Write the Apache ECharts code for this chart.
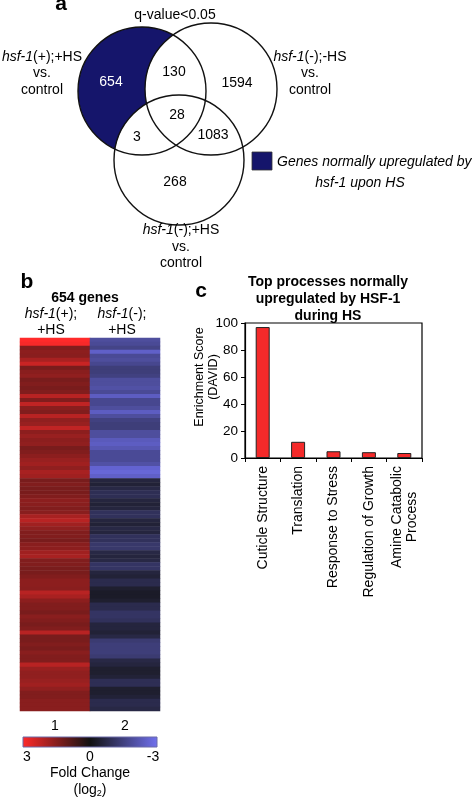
<!DOCTYPE html>
<html><head><meta charset="utf-8">
<script src="https://cdn.jsdelivr.net/npm/echarts@6/dist/echarts.min.js"></script>
<style>html,body{margin:0;padding:0;background:#fff}#c{width:472px;height:800px}</style>
</head><body><div id="c"></div>
<script>
// ---- Panel a: Venn counts ----
const vennCounts = [654, 130, 1594, 28, 3, 1083, 268];
// ---- Panel b: heatmap (row bands, log2 fold change) ----
const heatColumns = ['1', '2'];
const hsfPlusHS = [3.0,2.9,1.4,1.55,1.5,1.9,2.3,1.3,1.5,1.6,1.3,1.4,1.3,1.4,2.1,1.4,2.2,1.5,1.4,2.1,
  1.6,1.7,2.2,1.55,1.7,1.55,1.6,1.3,1.4,1.55,1.7,1.8,1.6,1.9,1.8,1.3,1.4,1.3,1.3,1.4,
  1.55,1.5,1.4,1.5,1.9,2.1,1.8,1.6,1.4,1.4,1.3,1.5,1.55,1.8,1.9,1.4,1.4,1.3,1.3,1.4,
  1.55,1.55,1.5,2.1,1.9,1.55,1.4,1.4,1.3,1.5,1.4,1.3,1.4,2.1,1.3,1.3,1.4,1.3,1.5,1.4,
  1.4,2.1,1.7,1.6,1.6,1.7,1.8,1.6,1.4,1.4,1.5,1.5,1.5];
const hsfMinusHS = [-1.9,-1.8,-1.6,-2.5,-1.8,-1.9,-1.7,-1.4,-1.4,-1.5,-1.9,-1.9,-2.0,-1.8,-2.4,-1.7,-1.7,-1.9,-2.4,-1.9,
  -1.5,-1.4,-1.4,-1.9,-1.9,-2.3,-2.4,-2.2,-1.8,-1.8,-1.8,-2.0,-2.6,-2.7,-2.5,-0.6,-0.5,-0.7,-0.9,-0.9,
  -0.6,-0.5,-0.6,-1.0,-1.0,-0.6,-0.5,-0.7,-0.6,-1.0,-1.0,-1.2,-1.2,-0.7,-0.6,-0.7,-1.1,-1.1,-0.6,-0.5,
  -0.8,-0.8,-0.4,-0.3,-0.3,-0.4,-0.8,-0.8,-1.1,-1.1,-1.0,-0.6,-0.6,-0.5,-0.7,-1.3,-1.4,-1.4,-1.4,-1.3,
  -0.7,-0.6,-0.4,-0.4,-0.5,-0.9,-0.9,-0.4,-0.4,-0.5,-0.8,-0.8,-0.7];
const foldTicks = ['3', '0', '-3'];
// ---- Panel c: enrichment ----
const processes = ['Cuticle Structure', 'Translation', 'Response to Stress', 'Regulation of Growth', 'Amine Catabolic\nProcess'];
const enrichment = [97, 12, 5, 4.3, 3.7];

const FF = '"Liberation Sans", Arial, sans-serif';
const NAVY = '#15156b';
const chart = echarts.init(document.getElementById('c'), null, {renderer: 'canvas'});

const rows = hsfPlusHS.map((_, i) => String(i));
const heatData = [];
hsfPlusHS.forEach((v, i) => heatData.push([0, i, v]));
hsfMinusHS.forEach((v, i) => heatData.push([1, i, v]));

function t(x, y, text, o) {
  o = o || {};
  return {type: 'text', x: x, y: y, z: 10, style: {
    text: text, fill: o.fill || '#000', fontSize: o.size || 14, fontFamily: FF,
    fontWeight: o.bold ? 'bold' : 'normal', fontStyle: o.italic ? 'italic' : 'normal',
    align: o.align || 'center', verticalAlign: 'middle',
    rich: {i: {fontStyle: 'italic', fontSize: o.size || 14, fontFamily: FF, fill: '#000'},
           n: {fontSize: o.size || 14, fontFamily: FF, fill: '#000'}}
  }};
}

const circles = [
  {cx: 142, cy: 91, r: 64},
  {cx: 211, cy: 89, r: 66},
  {cx: 179, cy: 160, r: 65}
];
const vennPos = [[111, 82], [174, 72], [237, 83], [177, 115], [137, 137], [213, 135], [175, 182]];

const graphics = [];
graphics.push({type: 'circle', z: 1, shape: circles[0], style: {fill: NAVY}});
graphics.push({type: 'circle', z: 2, shape: circles[1], style: {fill: '#fff'}});
graphics.push({type: 'circle', z: 2, shape: circles[2], style: {fill: '#fff'}});
circles.forEach(c => graphics.push({type: 'circle', z: 3, shape: c, style: {fill: 'none', stroke: '#111', lineWidth: 1.4}}));
vennCounts.forEach((v, i) => graphics.push(t(vennPos[i][0], vennPos[i][1], String(v), {fill: i === 0 ? '#fff' : '#000'})));
graphics.push(t(61, 4, 'a', {bold: true, size: 21}));
graphics.push(t(175, 15, 'q-value<0.05'));
graphics.push(t(42, 57, '{i|hsf-1}{n|(+);+HS}'));
graphics.push(t(42, 73, 'vs.'));
graphics.push(t(42, 90, 'control'));
graphics.push(t(310, 57, '{i|hsf-1}{n|(-);-HS}'));
graphics.push(t(310, 73, 'vs.'));
graphics.push(t(310, 90, 'control'));
graphics.push(t(181, 230, '{i|hsf-1}{n|(-);+HS}'));
graphics.push(t(181, 247, 'vs.'));
graphics.push(t(181, 263, 'control'));
graphics.push({type: 'rect', z: 3, shape: {x: 252, y: 152, width: 20, height: 18}, style: {fill: NAVY, stroke: '#333', lineWidth: 0.8}});
graphics.push(t(277, 162, 'Genes normally upregulated by', {italic: true, align: 'left'}));
graphics.push(t(360, 183, 'hsf-1 upon HS', {italic: true}));
// panel b texts
graphics.push(t(27, 282, 'b', {bold: true, size: 21}));
graphics.push(t(85, 298, '654 genes', {bold: true}));
graphics.push(t(51, 314, '{i|hsf-1}{n|(+);}'));
graphics.push(t(51, 330, '+HS'));
graphics.push(t(122, 314, '{i|hsf-1}{n|(-);}'));
graphics.push(t(122, 330, '+HS'));
// colour bar
graphics.push({type: 'rect', z: 3, shape: {x: 23, y: 737, width: 134, height: 10}, style: {
  fill: new echarts.graphic.LinearGradient(0, 0, 1, 0, [
    {offset: 0, color: '#ff2a2a'}, {offset: 0.5, color: '#121212'}, {offset: 1, color: '#7070ee'}]),
  stroke: '#6a6aa8', lineWidth: 1}});
graphics.push(t(27, 757, foldTicks[0]));
graphics.push(t(90, 757, foldTicks[1]));
graphics.push(t(153, 757, foldTicks[2]));
graphics.push(t(90, 773, 'Fold Change'));
graphics.push(t(90, 790, '(log{s|2})'));
graphics[graphics.length - 1].style.rich.s = {fontSize: 9, fontFamily: FF, fill: '#000', padding: [8, 0, 0, 0]};
// panel c texts
graphics.push(t(201, 291, 'c', {bold: true, size: 21}));
graphics.push(t(328, 282, 'Top processes normally', {bold: true}));
graphics.push(t(328, 299, 'upregulated by HSF-1', {bold: true}));
graphics.push(t(328, 316, 'during HS', {bold: true}));
const yn1 = t(0, 0, 'Enrichment Score', {size: 12.5}); yn1.x = 200; yn1.y = 377; yn1.rotation = Math.PI / 2;
const yn2 = t(0, 0, '(DAVID)', {size: 12.5}); yn2.x = 214; yn2.y = 377; yn2.rotation = Math.PI / 2;
graphics.push(yn1, yn2);

const option = {
  animation: false,
  backgroundColor: '#fff',
  textStyle: {fontFamily: FF},
  graphic: {elements: graphics},
  visualMap: {show: false, type: 'continuous', seriesIndex: 0, min: -3, max: 3,
    inRange: {color: ['#7070ee', '#121212', '#ff2a2a']}},
  grid: [
    {left: 20, top: 338, width: 140, height: 373},
    {left: 245, top: 323, width: 177, height: 135, show: true, borderColor: '#000', borderWidth: 1.2, backgroundColor: 'transparent'}
  ],
  xAxis: [
    {type: 'category', gridIndex: 0, data: heatColumns, axisLine: {show: false}, axisTick: {show: false},
      axisLabel: {fontSize: 14, color: '#000', margin: 8, fontFamily: FF}},
    {type: 'category', gridIndex: 1, data: processes,
      axisLine: {lineStyle: {color: '#000', width: 1.2}},
      axisTick: {show: true, length: 4, lineStyle: {color: '#000'}},
      axisLabel: {rotate: 90, fontSize: 14, color: '#000', margin: 8, fontFamily: FF, interval: 0,
        formatter: v => v.indexOf('\n') >= 0 ? v.split('\n').map(s => '{c|' + s + '}').join('\n') : v,
        rich: {c: {width: 102, align: 'center', fontSize: 14, lineHeight: 15, fontFamily: FF, color: '#000'}}}}
  ],
  yAxis: [
    {type: 'category', gridIndex: 0, data: rows, inverse: true, show: false},
    {type: 'value', gridIndex: 1, min: 0, max: 100, interval: 20,
      axisLine: {show: true, lineStyle: {color: '#000', width: 1.2}},
      axisTick: {show: true, length: 4, lineStyle: {color: '#000'}},
      splitLine: {show: false},
      axisLabel: {fontSize: 13.5, color: '#000', margin: 7, fontFamily: FF}}
  ],
  series: [
    {type: 'heatmap', xAxisIndex: 0, yAxisIndex: 0, data: heatData, itemStyle: {borderWidth: 0}, emphasis: {disabled: true}},
    {type: 'bar', xAxisIndex: 1, yAxisIndex: 1, data: enrichment, barWidth: 14,
      itemStyle: {color: '#f42a2a', borderColor: '#222', borderWidth: 1}}
  ]
};
chart.setOption(option);
</script></body></html>
